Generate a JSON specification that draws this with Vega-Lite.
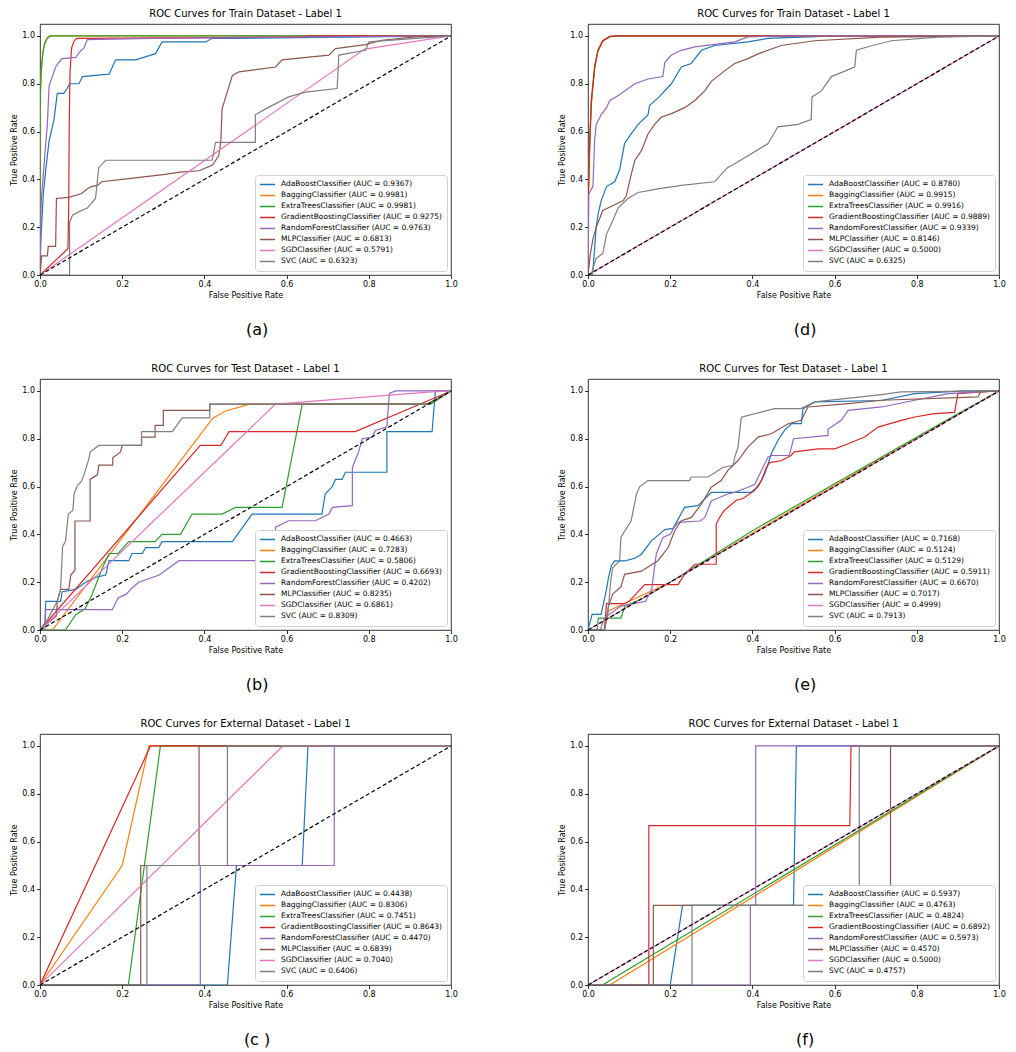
{
"$schema": "https://vega.github.io/schema/vega-lite/v6.json",
"background": "white",
"padding": {"left": 10, "top": 8, "right": 5, "bottom": 5},
"config": {
  "font": "DejaVu Sans",
  "view": {"stroke": "black", "strokeWidth": 0.8},
  "axis": {"domain": false, "grid": false, "tickColor": "black", "tickSize": 3.5, "tickWidth": 0.8, "labelFontSize": 8, "labelColor": "#000", "titleFontSize": 8, "titleFontWeight": "normal", "titleColor": "#000", "labelPadding": 2, "titlePadding": 3, "labelFlush": false},
  "legend": {"orient": "bottom-right", "offset": 4, "symbolType": "stroke", "symbolSize": 225, "symbolStrokeWidth": 1.5, "labelFontSize": 7.5, "labelColor": "#000", "padding": 4, "strokeColor": "#d0d0d0", "fillColor": "white", "cornerRadius": 3, "rowPadding": 0, "clipHeight": 10.8, "labelOffset": 5, "labelLimit": 300},
  "title": {"fontSize": 10, "fontWeight": "normal", "color": "#000", "offset": 5},
  "concat": {"spacing": 100}
},
"resolve": {"scale": {"color": "independent"}},
"spacing": 25,
"vconcat": [
{"hconcat": [
 {"title": {"text": "(a)", "orient": "bottom", "anchor": "middle", "fontSize": 16, "offset": 22, "dx": 23},
  "resolve": {"scale": {"color": "independent"}},
  "vconcat": [{
  "title": "ROC Curves for Train Dataset - Label 1", "width": 411, "height": 251,
  "layer": [
   {"data": {"values": [
    {"m":"Ada","x":0,"y":0},{"m":"Ada","x":0.002,"y":0.14},{"m":"Ada","x":0.008,"y":0.34},{"m":"Ada","x":0.014,"y":0.44},{"m":"Ada","x":0.022,"y":0.56},{"m":"Ada","x":0.034,"y":0.65},{"m":"Ada","x":0.042,"y":0.76},{"m":"Ada","x":0.058,"y":0.76},{"m":"Ada","x":0.066,"y":0.78},{"m":"Ada","x":0.072,"y":0.8},{"m":"Ada","x":0.095,"y":0.8},{"m":"Ada","x":0.103,"y":0.83},{"m":"Ada","x":0.168,"y":0.84},{"m":"Ada","x":0.176,"y":0.87},{"m":"Ada","x":0.184,"y":0.9},{"m":"Ada","x":0.233,"y":0.9},{"m":"Ada","x":0.281,"y":0.926},{"m":"Ada","x":0.297,"y":0.975},{"m":"Ada","x":0.403,"y":0.975},{"m":"Ada","x":0.419,"y":0.99},{"m":"Ada","x":0.468,"y":0.99},{"m":"Ada","x":1,"y":1},
    {"m":"Bag","x":0,"y":0},{"m":"Bag","x":0,"y":0.72},{"m":"Bag","x":0.003,"y":0.86},{"m":"Bag","x":0.007,"y":0.935},{"m":"Bag","x":0.012,"y":0.975},{"m":"Bag","x":0.018,"y":0.995},{"m":"Bag","x":0.024,"y":1},{"m":"Bag","x":1,"y":1},
    {"m":"ET","x":0,"y":0},{"m":"ET","x":0,"y":0.7},{"m":"ET","x":0.003,"y":0.85},{"m":"ET","x":0.007,"y":0.93},{"m":"ET","x":0.012,"y":0.97},{"m":"ET","x":0.018,"y":0.99},{"m":"ET","x":0.025,"y":1},{"m":"ET","x":1,"y":1},
    {"m":"GB","x":0,"y":0},{"m":"GB","x":0.068,"y":0.11},{"m":"GB","x":0.07,"y":0.3},{"m":"GB","x":0.071,"y":0.6},{"m":"GB","x":0.073,"y":0.85},{"m":"GB","x":0.077,"y":0.95},{"m":"GB","x":0.083,"y":0.98},{"m":"GB","x":0.09,"y":0.99},{"m":"GB","x":0.645,"y":0.995},{"m":"GB","x":0.65,"y":1},{"m":"GB","x":1,"y":1},
    {"m":"RF","x":0,"y":0},{"m":"RF","x":0.003,"y":0.31},{"m":"RF","x":0.008,"y":0.42},{"m":"RF","x":0.014,"y":0.55},{"m":"RF","x":0.018,"y":0.63},{"m":"RF","x":0.022,"y":0.79},{"m":"RF","x":0.03,"y":0.83},{"m":"RF","x":0.038,"y":0.87},{"m":"RF","x":0.046,"y":0.89},{"m":"RF","x":0.054,"y":0.905},{"m":"RF","x":0.087,"y":0.91},{"m":"RF","x":0.095,"y":0.93},{"m":"RF","x":0.107,"y":0.95},{"m":"RF","x":0.115,"y":0.985},{"m":"RF","x":0.273,"y":0.99},{"m":"RF","x":0.6,"y":0.995},{"m":"RF","x":1,"y":1},
    {"m":"MLP","x":0,"y":0},{"m":"MLP","x":0.004,"y":0.08},{"m":"MLP","x":0.018,"y":0.08},{"m":"MLP","x":0.02,"y":0.12},{"m":"MLP","x":0.038,"y":0.12},{"m":"MLP","x":0.04,"y":0.32},{"m":"MLP","x":0.07,"y":0.325},{"m":"MLP","x":0.1,"y":0.34},{"m":"MLP","x":0.115,"y":0.36},{"m":"MLP","x":0.125,"y":0.37},{"m":"MLP","x":0.14,"y":0.375},{"m":"MLP","x":0.15,"y":0.39},{"m":"MLP","x":0.2,"y":0.4},{"m":"MLP","x":0.3,"y":0.42},{"m":"MLP","x":0.34,"y":0.43},{"m":"MLP","x":0.387,"y":0.436},{"m":"MLP","x":0.42,"y":0.46},{"m":"MLP","x":0.435,"y":0.5},{"m":"MLP","x":0.44,"y":0.56},{"m":"MLP","x":0.443,"y":0.695},{"m":"MLP","x":0.46,"y":0.79},{"m":"MLP","x":0.468,"y":0.835},{"m":"MLP","x":0.484,"y":0.85},{"m":"MLP","x":0.573,"y":0.87},{"m":"MLP","x":0.589,"y":0.9},{"m":"MLP","x":0.703,"y":0.92},{"m":"MLP","x":0.719,"y":0.947},{"m":"MLP","x":0.792,"y":0.964},{"m":"MLP","x":0.832,"y":0.982},{"m":"MLP","x":0.913,"y":0.996},{"m":"MLP","x":1,"y":1},
    {"m":"SGD","x":0,"y":0},{"m":"SGD","x":0.79,"y":0.945},{"m":"SGD","x":1,"y":1},
    {"m":"SVC","x":0,"y":0},{"m":"SVC","x":0.072,"y":0},{"m":"SVC","x":0.072,"y":0.22},{"m":"SVC","x":0.079,"y":0.25},{"m":"SVC","x":0.095,"y":0.265},{"m":"SVC","x":0.115,"y":0.28},{"m":"SVC","x":0.135,"y":0.32},{"m":"SVC","x":0.143,"y":0.45},{"m":"SVC","x":0.16,"y":0.48},{"m":"SVC","x":0.419,"y":0.48},{"m":"SVC","x":0.427,"y":0.555},{"m":"SVC","x":0.524,"y":0.555},{"m":"SVC","x":0.524,"y":0.67},{"m":"SVC","x":0.549,"y":0.695},{"m":"SVC","x":0.605,"y":0.745},{"m":"SVC","x":0.646,"y":0.765},{"m":"SVC","x":0.723,"y":0.78},{"m":"SVC","x":0.727,"y":0.92},{"m":"SVC","x":0.792,"y":0.94},{"m":"SVC","x":0.8,"y":0.975},{"m":"SVC","x":0.873,"y":0.985},{"m":"SVC","x":1,"y":1}
   ]},
   "transform": [{"lookup": "m", "from": {"data": {"values": [
     {"m":"Ada","label":"AdaBoostClassifier (AUC = 0.9367)"},{"m":"Bag","label":"BaggingClassifier (AUC = 0.9981)"},{"m":"ET","label":"ExtraTreesClassifier (AUC = 0.9981)"},{"m":"GB","label":"GradientBoostingClassifier (AUC = 0.9275)"},{"m":"RF","label":"RandomForestClassifier (AUC = 0.9763)"},{"m":"MLP","label":"MLPClassifier (AUC = 0.6813)"},{"m":"SGD","label":"SGDClassifier (AUC = 0.5791)"},{"m":"SVC","label":"SVC (AUC = 0.6323)"}]}, "key": "m", "fields": ["label"]}}],
   "mark": {"type": "line", "strokeWidth": 1.2, "clip": true},
   "encoding": {
    "x": {"field": "x", "type": "quantitative", "scale": {"domain": [0, 1], "nice": false}, "axis": {"title": "False Positive Rate", "values": [0, 0.2, 0.4, 0.6, 0.8, 1], "format": ".1f"}},
    "y": {"field": "y", "type": "quantitative", "scale": {"domain": [0, 1.05], "nice": false}, "axis": {"title": "True Positive Rate", "values": [0, 0.2, 0.4, 0.6, 0.8, 1], "format": ".1f"}},
    "color": {"field": "label", "type": "nominal", "scale": {"domain": ["AdaBoostClassifier (AUC = 0.9367)","BaggingClassifier (AUC = 0.9981)","ExtraTreesClassifier (AUC = 0.9981)","GradientBoostingClassifier (AUC = 0.9275)","RandomForestClassifier (AUC = 0.9763)","MLPClassifier (AUC = 0.6813)","SGDClassifier (AUC = 0.5791)","SVC (AUC = 0.6323)"], "range": ["#1f77b4","#ff7f0e","#2ca02c","#d62728","#9467bd","#8c564b","#e377c2","#7f7f7f"]}, "legend": {"title": null}},
    "order": [{"field": "x"}, {"field": "y"}]
   }},
   {"data": {"values": [{"x": 0, "y": 0, "x2": 1, "y2": 1}]}, "mark": {"type": "rule", "color": "black", "strokeDash": [4, 2.5], "strokeWidth": 1.2}, "encoding": {"x": {"field": "x", "type": "quantitative"}, "y": {"field": "y", "type": "quantitative"}, "x2": {"field": "x2"}, "y2": {"field": "y2"}}}
  ]}]},
 {"title": {"text": "(d)", "orient": "bottom", "anchor": "middle", "fontSize": 16, "offset": 22, "dx": 23},
  "resolve": {"scale": {"color": "independent"}},
  "vconcat": [{
  "title": "ROC Curves for Train Dataset - Label 1", "width": 411, "height": 251,
  "layer": [
   {"data": {"values": [
    {"m":"Ada","x":0,"y":0},{"m":"Ada","x":0.01,"y":0},{"m":"Ada","x":0.012,"y":0.02},{"m":"Ada","x":0.02,"y":0.2},{"m":"Ada","x":0.024,"y":0.25},{"m":"Ada","x":0.032,"y":0.31},{"m":"Ada","x":0.045,"y":0.37},{"m":"Ada","x":0.065,"y":0.39},{"m":"Ada","x":0.077,"y":0.44},{"m":"Ada","x":0.089,"y":0.55},{"m":"Ada","x":0.105,"y":0.59},{"m":"Ada","x":0.122,"y":0.63},{"m":"Ada","x":0.146,"y":0.67},{"m":"Ada","x":0.15,"y":0.71},{"m":"Ada","x":0.17,"y":0.74},{"m":"Ada","x":0.203,"y":0.8},{"m":"Ada","x":0.227,"y":0.87},{"m":"Ada","x":0.251,"y":0.885},{"m":"Ada","x":0.276,"y":0.94},{"m":"Ada","x":0.308,"y":0.96},{"m":"Ada","x":0.389,"y":0.975},{"m":"Ada","x":0.438,"y":0.99},{"m":"Ada","x":0.6,"y":1},{"m":"Ada","x":1,"y":1},
    {"m":"Bag","x":0,"y":0},{"m":"Bag","x":0.001,"y":0.33},{"m":"Bag","x":0.004,"y":0.53},{"m":"Bag","x":0.008,"y":0.71},{"m":"Bag","x":0.016,"y":0.86},{"m":"Bag","x":0.024,"y":0.935},{"m":"Bag","x":0.036,"y":0.978},{"m":"Bag","x":0.053,"y":0.997},{"m":"Bag","x":0.072,"y":1},{"m":"Bag","x":1,"y":1},
    {"m":"ET","x":0,"y":0},{"m":"ET","x":0.001,"y":0.34},{"m":"ET","x":0.004,"y":0.54},{"m":"ET","x":0.008,"y":0.72},{"m":"ET","x":0.016,"y":0.865},{"m":"ET","x":0.024,"y":0.937},{"m":"ET","x":0.036,"y":0.979},{"m":"ET","x":0.053,"y":0.997},{"m":"ET","x":0.07,"y":1},{"m":"ET","x":1,"y":1},
    {"m":"GB","x":0,"y":0},{"m":"GB","x":0.001,"y":0.35},{"m":"GB","x":0.004,"y":0.55},{"m":"GB","x":0.008,"y":0.73},{"m":"GB","x":0.016,"y":0.87},{"m":"GB","x":0.024,"y":0.94},{"m":"GB","x":0.036,"y":0.98},{"m":"GB","x":0.053,"y":0.998},{"m":"GB","x":0.07,"y":1},{"m":"GB","x":1,"y":1},
    {"m":"RF","x":0,"y":0},{"m":"RF","x":0.002,"y":0.34},{"m":"RF","x":0.012,"y":0.37},{"m":"RF","x":0.016,"y":0.56},{"m":"RF","x":0.02,"y":0.63},{"m":"RF","x":0.032,"y":0.67},{"m":"RF","x":0.045,"y":0.7},{"m":"RF","x":0.053,"y":0.73},{"m":"RF","x":0.073,"y":0.75},{"m":"RF","x":0.089,"y":0.77},{"m":"RF","x":0.114,"y":0.8},{"m":"RF","x":0.146,"y":0.82},{"m":"RF","x":0.182,"y":0.83},{"m":"RF","x":0.187,"y":0.89},{"m":"RF","x":0.203,"y":0.92},{"m":"RF","x":0.227,"y":0.94},{"m":"RF","x":0.26,"y":0.954},{"m":"RF","x":0.357,"y":0.975},{"m":"RF","x":0.389,"y":0.996},{"m":"RF","x":0.47,"y":1},{"m":"RF","x":1,"y":1},
    {"m":"MLP","x":0,"y":0},{"m":"MLP","x":0.005,"y":0.08},{"m":"MLP","x":0.012,"y":0.15},{"m":"MLP","x":0.02,"y":0.2},{"m":"MLP","x":0.036,"y":0.27},{"m":"MLP","x":0.06,"y":0.29},{"m":"MLP","x":0.085,"y":0.31},{"m":"MLP","x":0.093,"y":0.33},{"m":"MLP","x":0.105,"y":0.42},{"m":"MLP","x":0.114,"y":0.48},{"m":"MLP","x":0.13,"y":0.52},{"m":"MLP","x":0.146,"y":0.59},{"m":"MLP","x":0.162,"y":0.63},{"m":"MLP","x":0.178,"y":0.66},{"m":"MLP","x":0.203,"y":0.675},{"m":"MLP","x":0.235,"y":0.7},{"m":"MLP","x":0.26,"y":0.73},{"m":"MLP","x":0.284,"y":0.77},{"m":"MLP","x":0.3,"y":0.81},{"m":"MLP","x":0.333,"y":0.855},{"m":"MLP","x":0.357,"y":0.885},{"m":"MLP","x":0.389,"y":0.905},{"m":"MLP","x":0.414,"y":0.925},{"m":"MLP","x":0.438,"y":0.94},{"m":"MLP","x":0.47,"y":0.96},{"m":"MLP","x":0.551,"y":0.98},{"m":"MLP","x":0.714,"y":0.995},{"m":"MLP","x":1,"y":1},
    {"m":"SGD","x":0,"y":0},{"m":"SGD","x":1,"y":1},
    {"m":"SVC","x":0,"y":0},{"m":"SVC","x":0.008,"y":0},{"m":"SVC","x":0.016,"y":0.05},{"m":"SVC","x":0.02,"y":0.07},{"m":"SVC","x":0.036,"y":0.09},{"m":"SVC","x":0.045,"y":0.17},{"m":"SVC","x":0.061,"y":0.23},{"m":"SVC","x":0.073,"y":0.28},{"m":"SVC","x":0.097,"y":0.32},{"m":"SVC","x":0.122,"y":0.345},{"m":"SVC","x":0.17,"y":0.36},{"m":"SVC","x":0.227,"y":0.375},{"m":"SVC","x":0.308,"y":0.39},{"m":"SVC","x":0.34,"y":0.45},{"m":"SVC","x":0.357,"y":0.465},{"m":"SVC","x":0.438,"y":0.55},{"m":"SVC","x":0.462,"y":0.62},{"m":"SVC","x":0.511,"y":0.63},{"m":"SVC","x":0.543,"y":0.65},{"m":"SVC","x":0.545,"y":0.745},{"m":"SVC","x":0.568,"y":0.77},{"m":"SVC","x":0.592,"y":0.83},{"m":"SVC","x":0.649,"y":0.87},{"m":"SVC","x":0.653,"y":0.94},{"m":"SVC","x":0.681,"y":0.955},{"m":"SVC","x":0.738,"y":0.98},{"m":"SVC","x":0.852,"y":0.995},{"m":"SVC","x":1,"y":1}
   ]},
   "transform": [{"lookup": "m", "from": {"data": {"values": [
     {"m":"Ada","label":"AdaBoostClassifier (AUC = 0.8780)"},{"m":"Bag","label":"BaggingClassifier (AUC = 0.9915)"},{"m":"ET","label":"ExtraTreesClassifier (AUC = 0.9916)"},{"m":"GB","label":"GradientBoostingClassifier (AUC = 0.9889)"},{"m":"RF","label":"RandomForestClassifier (AUC = 0.9339)"},{"m":"MLP","label":"MLPClassifier (AUC = 0.8146)"},{"m":"SGD","label":"SGDClassifier (AUC = 0.5000)"},{"m":"SVC","label":"SVC (AUC = 0.6325)"}]}, "key": "m", "fields": ["label"]}}],
   "mark": {"type": "line", "strokeWidth": 1.2, "clip": true},
   "encoding": {
    "x": {"field": "x", "type": "quantitative", "scale": {"domain": [0, 1], "nice": false}, "axis": {"title": "False Positive Rate", "values": [0, 0.2, 0.4, 0.6, 0.8, 1], "format": ".1f"}},
    "y": {"field": "y", "type": "quantitative", "scale": {"domain": [0, 1.05], "nice": false}, "axis": {"title": "True Positive Rate", "values": [0, 0.2, 0.4, 0.6, 0.8, 1], "format": ".1f"}},
    "color": {"field": "label", "type": "nominal", "scale": {"domain": ["AdaBoostClassifier (AUC = 0.8780)","BaggingClassifier (AUC = 0.9915)","ExtraTreesClassifier (AUC = 0.9916)","GradientBoostingClassifier (AUC = 0.9889)","RandomForestClassifier (AUC = 0.9339)","MLPClassifier (AUC = 0.8146)","SGDClassifier (AUC = 0.5000)","SVC (AUC = 0.6325)"], "range": ["#1f77b4","#ff7f0e","#2ca02c","#d62728","#9467bd","#8c564b","#e377c2","#7f7f7f"]}, "legend": {"title": null}},
    "order": [{"field": "x"}, {"field": "y"}]
   }},
   {"data": {"values": [{"x": 0, "y": 0, "x2": 1, "y2": 1}]}, "mark": {"type": "rule", "color": "black", "strokeDash": [4, 2.5], "strokeWidth": 1.2}, "encoding": {"x": {"field": "x", "type": "quantitative"}, "y": {"field": "y", "type": "quantitative"}, "x2": {"field": "x2"}, "y2": {"field": "y2"}}}
  ]}]}
 ], "resolve": {"scale": {"color": "independent"}}},
{"hconcat": [
 {"title": {"text": "(b)", "orient": "bottom", "anchor": "middle", "fontSize": 16, "offset": 22, "dx": 23},
  "resolve": {"scale": {"color": "independent"}},
  "vconcat": [{
  "title": "ROC Curves for Test Dataset - Label 1", "width": 411, "height": 251,
  "layer": [
   {"data": {"values": [
    {"m":"Ada","x":0,"y":0},{"m":"Ada","x":0.012,"y":0.03},{"m":"Ada","x":0.014,"y":0.12},{"m":"Ada","x":0.05,"y":0.12},{"m":"Ada","x":0.054,"y":0.16},{"m":"Ada","x":0.087,"y":0.17},{"m":"Ada","x":0.111,"y":0.2},{"m":"Ada","x":0.135,"y":0.22},{"m":"Ada","x":0.16,"y":0.23},{"m":"Ada","x":0.168,"y":0.29},{"m":"Ada","x":0.216,"y":0.29},{"m":"Ada","x":0.224,"y":0.32},{"m":"Ada","x":0.249,"y":0.32},{"m":"Ada","x":0.257,"y":0.345},{"m":"Ada","x":0.289,"y":0.345},{"m":"Ada","x":0.297,"y":0.37},{"m":"Ada","x":0.468,"y":0.37},{"m":"Ada","x":0.516,"y":0.485},{"m":"Ada","x":0.686,"y":0.485},{"m":"Ada","x":0.694,"y":0.57},{"m":"Ada","x":0.711,"y":0.6},{"m":"Ada","x":0.719,"y":0.63},{"m":"Ada","x":0.735,"y":0.63},{"m":"Ada","x":0.743,"y":0.66},{"m":"Ada","x":0.844,"y":0.66},{"m":"Ada","x":0.844,"y":0.83},{"m":"Ada","x":0.954,"y":0.83},{"m":"Ada","x":0.962,"y":1},{"m":"Ada","x":1,"y":1},
    {"m":"Bag","x":0,"y":0},{"m":"Bag","x":0.03,"y":0},{"m":"Bag","x":0.42,"y":0.885},{"m":"Bag","x":0.45,"y":0.915},{"m":"Bag","x":0.51,"y":0.945},{"m":"Bag","x":0.95,"y":0.945},{"m":"Bag","x":1,"y":1},
    {"m":"ET","x":0,"y":0},{"m":"ET","x":0.062,"y":0},{"m":"ET","x":0.087,"y":0.064},{"m":"ET","x":0.11,"y":0.09},{"m":"ET","x":0.127,"y":0.15},{"m":"ET","x":0.152,"y":0.26},{"m":"ET","x":0.168,"y":0.32},{"m":"ET","x":0.19,"y":0.32},{"m":"ET","x":0.216,"y":0.37},{"m":"ET","x":0.28,"y":0.37},{"m":"ET","x":0.297,"y":0.4},{"m":"ET","x":0.342,"y":0.4},{"m":"ET","x":0.37,"y":0.485},{"m":"ET","x":0.443,"y":0.485},{"m":"ET","x":0.476,"y":0.513},{"m":"ET","x":0.589,"y":0.513},{"m":"ET","x":0.638,"y":0.945},{"m":"ET","x":0.95,"y":0.945},{"m":"ET","x":1,"y":1},
    {"m":"GB","x":0,"y":0},{"m":"GB","x":0.39,"y":0.772},{"m":"GB","x":0.44,"y":0.772},{"m":"GB","x":0.46,"y":0.83},{"m":"GB","x":0.767,"y":0.83},{"m":"GB","x":1,"y":1},
    {"m":"RF","x":0,"y":0},{"m":"RF","x":0.012,"y":0},{"m":"RF","x":0.014,"y":0.085},{"m":"RF","x":0.176,"y":0.085},{"m":"RF","x":0.19,"y":0.134},{"m":"RF","x":0.21,"y":0.15},{"m":"RF","x":0.224,"y":0.176},{"m":"RF","x":0.24,"y":0.2},{"m":"RF","x":0.29,"y":0.23},{"m":"RF","x":0.338,"y":0.29},{"m":"RF","x":0.573,"y":0.29},{"m":"RF","x":0.573,"y":0.43},{"m":"RF","x":0.605,"y":0.457},{"m":"RF","x":0.67,"y":0.457},{"m":"RF","x":0.703,"y":0.485},{"m":"RF","x":0.711,"y":0.513},{"m":"RF","x":0.76,"y":0.52},{"m":"RF","x":0.76,"y":0.68},{"m":"RF","x":0.767,"y":0.71},{"m":"RF","x":0.775,"y":0.744},{"m":"RF","x":0.784,"y":0.8},{"m":"RF","x":0.808,"y":0.807},{"m":"RF","x":0.816,"y":0.835},{"m":"RF","x":0.844,"y":0.85},{"m":"RF","x":0.85,"y":0.99},{"m":"RF","x":0.865,"y":1},{"m":"RF","x":1,"y":1},
    {"m":"MLP","x":0,"y":0},{"m":"MLP","x":0.04,"y":0.06},{"m":"MLP","x":0.042,"y":0.12},{"m":"MLP","x":0.05,"y":0.17},{"m":"MLP","x":0.07,"y":0.17},{"m":"MLP","x":0.075,"y":0.23},{"m":"MLP","x":0.085,"y":0.25},{"m":"MLP","x":0.085,"y":0.456},{"m":"MLP","x":0.122,"y":0.456},{"m":"MLP","x":0.122,"y":0.63},{"m":"MLP","x":0.14,"y":0.65},{"m":"MLP","x":0.143,"y":0.69},{"m":"MLP","x":0.177,"y":0.69},{"m":"MLP","x":0.177,"y":0.72},{"m":"MLP","x":0.196,"y":0.745},{"m":"MLP","x":0.2,"y":0.772},{"m":"MLP","x":0.247,"y":0.772},{"m":"MLP","x":0.247,"y":0.807},{"m":"MLP","x":0.28,"y":0.807},{"m":"MLP","x":0.28,"y":0.856},{"m":"MLP","x":0.3,"y":0.856},{"m":"MLP","x":0.3,"y":0.919},{"m":"MLP","x":0.413,"y":0.919},{"m":"MLP","x":0.413,"y":0.945},{"m":"MLP","x":0.942,"y":0.945},{"m":"MLP","x":1,"y":1},
    {"m":"SGD","x":0,"y":0},{"m":"SGD","x":0.573,"y":0.945},{"m":"SGD","x":0.945,"y":0.995},{"m":"SGD","x":1,"y":1},
    {"m":"SVC","x":0,"y":0},{"m":"SVC","x":0.014,"y":0.03},{"m":"SVC","x":0.042,"y":0.12},{"m":"SVC","x":0.05,"y":0.17},{"m":"SVC","x":0.055,"y":0.35},{"m":"SVC","x":0.062,"y":0.37},{"m":"SVC","x":0.069,"y":0.485},{"m":"SVC","x":0.08,"y":0.5},{"m":"SVC","x":0.083,"y":0.57},{"m":"SVC","x":0.091,"y":0.604},{"m":"SVC","x":0.1,"y":0.62},{"m":"SVC","x":0.107,"y":0.65},{"m":"SVC","x":0.119,"y":0.716},{"m":"SVC","x":0.122,"y":0.744},{"m":"SVC","x":0.143,"y":0.772},{"m":"SVC","x":0.247,"y":0.772},{"m":"SVC","x":0.247,"y":0.83},{"m":"SVC","x":0.322,"y":0.83},{"m":"SVC","x":0.346,"y":0.887},{"m":"SVC","x":0.413,"y":0.887},{"m":"SVC","x":0.413,"y":0.945},{"m":"SVC","x":0.942,"y":0.945},{"m":"SVC","x":1,"y":1}
   ]},
   "transform": [{"lookup": "m", "from": {"data": {"values": [
     {"m":"Ada","label":"AdaBoostClassifier (AUC = 0.4663)"},{"m":"Bag","label":"BaggingClassifier (AUC = 0.7283)"},{"m":"ET","label":"ExtraTreesClassifier (AUC = 0.5806)"},{"m":"GB","label":"GradientBoostingClassifier (AUC = 0.6693)"},{"m":"RF","label":"RandomForestClassifier (AUC = 0.4202)"},{"m":"MLP","label":"MLPClassifier (AUC = 0.8235)"},{"m":"SGD","label":"SGDClassifier (AUC = 0.6861)"},{"m":"SVC","label":"SVC (AUC = 0.8309)"}]}, "key": "m", "fields": ["label"]}}],
   "mark": {"type": "line", "strokeWidth": 1.2, "clip": true},
   "encoding": {
    "x": {"field": "x", "type": "quantitative", "scale": {"domain": [0, 1], "nice": false}, "axis": {"title": "False Positive Rate", "values": [0, 0.2, 0.4, 0.6, 0.8, 1], "format": ".1f"}},
    "y": {"field": "y", "type": "quantitative", "scale": {"domain": [0, 1.05], "nice": false}, "axis": {"title": "True Positive Rate", "values": [0, 0.2, 0.4, 0.6, 0.8, 1], "format": ".1f"}},
    "color": {"field": "label", "type": "nominal", "scale": {"domain": ["AdaBoostClassifier (AUC = 0.4663)","BaggingClassifier (AUC = 0.7283)","ExtraTreesClassifier (AUC = 0.5806)","GradientBoostingClassifier (AUC = 0.6693)","RandomForestClassifier (AUC = 0.4202)","MLPClassifier (AUC = 0.8235)","SGDClassifier (AUC = 0.6861)","SVC (AUC = 0.8309)"], "range": ["#1f77b4","#ff7f0e","#2ca02c","#d62728","#9467bd","#8c564b","#e377c2","#7f7f7f"]}, "legend": {"title": null}},
    "order": [{"field": "x"}, {"field": "y"}]
   }},
   {"data": {"values": [{"x": 0, "y": 0, "x2": 1, "y2": 1}]}, "mark": {"type": "rule", "color": "black", "strokeDash": [4, 2.5], "strokeWidth": 1.2}, "encoding": {"x": {"field": "x", "type": "quantitative"}, "y": {"field": "y", "type": "quantitative"}, "x2": {"field": "x2"}, "y2": {"field": "y2"}}}
  ]}]},
 {"title": {"text": "(e)", "orient": "bottom", "anchor": "middle", "fontSize": 16, "offset": 22, "dx": 23},
  "resolve": {"scale": {"color": "independent"}},
  "vconcat": [{
  "title": "ROC Curves for Test Dataset - Label 1", "width": 411, "height": 251,
  "layer": [
   {"data": {"values": [
    {"m":"Ada","x":0,"y":0},{"m":"Ada","x":0.01,"y":0.065},{"m":"Ada","x":0.032,"y":0.065},{"m":"Ada","x":0.045,"y":0.17},{"m":"Ada","x":0.05,"y":0.22},{"m":"Ada","x":0.057,"y":0.27},{"m":"Ada","x":0.065,"y":0.289},{"m":"Ada","x":0.09,"y":0.289},{"m":"Ada","x":0.114,"y":0.3},{"m":"Ada","x":0.13,"y":0.317},{"m":"Ada","x":0.154,"y":0.373},{"m":"Ada","x":0.187,"y":0.42},{"m":"Ada","x":0.207,"y":0.425},{"m":"Ada","x":0.235,"y":0.513},{"m":"Ada","x":0.268,"y":0.52},{"m":"Ada","x":0.3,"y":0.576},{"m":"Ada","x":0.397,"y":0.576},{"m":"Ada","x":0.414,"y":0.6},{"m":"Ada","x":0.43,"y":0.653},{"m":"Ada","x":0.446,"y":0.737},{"m":"Ada","x":0.462,"y":0.793},{"m":"Ada","x":0.478,"y":0.835},{"m":"Ada","x":0.495,"y":0.863},{"m":"Ada","x":0.519,"y":0.863},{"m":"Ada","x":0.523,"y":0.926},{"m":"Ada","x":0.552,"y":0.954},{"m":"Ada","x":0.714,"y":0.96},{"m":"Ada","x":0.795,"y":0.989},{"m":"Ada","x":0.916,"y":1},{"m":"Ada","x":1,"y":1},
    {"m":"Bag","x":0,"y":0},{"m":"Bag","x":0.04,"y":0},{"m":"Bag","x":0.05,"y":0.08},{"m":"Bag","x":0.1,"y":0.12},{"m":"Bag","x":0.2,"y":0.2},{"m":"Bag","x":0.4,"y":0.405},{"m":"Bag","x":0.7,"y":0.705},{"m":"Bag","x":1,"y":1},
    {"m":"ET","x":0,"y":0},{"m":"ET","x":0.022,"y":0},{"m":"ET","x":0.025,"y":0.05},{"m":"ET","x":0.08,"y":0.05},{"m":"ET","x":0.09,"y":0.1},{"m":"ET","x":0.13,"y":0.13},{"m":"ET","x":0.2,"y":0.2},{"m":"ET","x":0.4,"y":0.415},{"m":"ET","x":0.6,"y":0.612},{"m":"ET","x":0.9,"y":0.905},{"m":"ET","x":1,"y":1},
    {"m":"GB","x":0,"y":0},{"m":"GB","x":0.04,"y":0},{"m":"GB","x":0.045,"y":0.11},{"m":"GB","x":0.09,"y":0.11},{"m":"GB","x":0.1,"y":0.12},{"m":"GB","x":0.138,"y":0.19},{"m":"GB","x":0.219,"y":0.19},{"m":"GB","x":0.235,"y":0.233},{"m":"GB","x":0.26,"y":0.275},{"m":"GB","x":0.312,"y":0.275},{"m":"GB","x":0.312,"y":0.443},{"m":"GB","x":0.32,"y":0.47},{"m":"GB","x":0.33,"y":0.497},{"m":"GB","x":0.345,"y":0.52},{"m":"GB","x":0.361,"y":0.543},{"m":"GB","x":0.377,"y":0.55},{"m":"GB","x":0.405,"y":0.583},{"m":"GB","x":0.422,"y":0.625},{"m":"GB","x":0.434,"y":0.68},{"m":"GB","x":0.442,"y":0.7},{"m":"GB","x":0.47,"y":0.708},{"m":"GB","x":0.494,"y":0.73},{"m":"GB","x":0.502,"y":0.745},{"m":"GB","x":0.56,"y":0.758},{"m":"GB","x":0.6,"y":0.758},{"m":"GB","x":0.633,"y":0.779},{"m":"GB","x":0.673,"y":0.807},{"m":"GB","x":0.706,"y":0.849},{"m":"GB","x":0.762,"y":0.877},{"m":"GB","x":0.795,"y":0.891},{"m":"GB","x":0.843,"y":0.905},{"m":"GB","x":0.892,"y":0.91},{"m":"GB","x":0.9,"y":0.989},{"m":"GB","x":0.957,"y":0.996},{"m":"GB","x":1,"y":1},
    {"m":"RF","x":0,"y":0},{"m":"RF","x":0.03,"y":0},{"m":"RF","x":0.04,"y":0.05},{"m":"RF","x":0.08,"y":0.1},{"m":"RF","x":0.14,"y":0.12},{"m":"RF","x":0.155,"y":0.17},{"m":"RF","x":0.166,"y":0.317},{"m":"RF","x":0.182,"y":0.387},{"m":"RF","x":0.2,"y":0.4},{"m":"RF","x":0.21,"y":0.43},{"m":"RF","x":0.22,"y":0.45},{"m":"RF","x":0.272,"y":0.456},{"m":"RF","x":0.284,"y":0.47},{"m":"RF","x":0.3,"y":0.54},{"m":"RF","x":0.34,"y":0.569},{"m":"RF","x":0.357,"y":0.576},{"m":"RF","x":0.389,"y":0.597},{"m":"RF","x":0.406,"y":0.61},{"m":"RF","x":0.422,"y":0.667},{"m":"RF","x":0.438,"y":0.723},{"m":"RF","x":0.446,"y":0.73},{"m":"RF","x":0.49,"y":0.73},{"m":"RF","x":0.5,"y":0.8},{"m":"RF","x":0.584,"y":0.814},{"m":"RF","x":0.584,"y":0.84},{"m":"RF","x":0.616,"y":0.877},{"m":"RF","x":0.633,"y":0.919},{"m":"RF","x":0.714,"y":0.933},{"m":"RF","x":0.795,"y":0.961},{"m":"RF","x":0.876,"y":0.989},{"m":"RF","x":0.949,"y":0.996},{"m":"RF","x":1,"y":1},
    {"m":"MLP","x":0,"y":0},{"m":"MLP","x":0.04,"y":0},{"m":"MLP","x":0.05,"y":0.1},{"m":"MLP","x":0.06,"y":0.15},{"m":"MLP","x":0.08,"y":0.18},{"m":"MLP","x":0.089,"y":0.233},{"m":"MLP","x":0.13,"y":0.246},{"m":"MLP","x":0.17,"y":0.29},{"m":"MLP","x":0.195,"y":0.345},{"m":"MLP","x":0.211,"y":0.415},{"m":"MLP","x":0.227,"y":0.457},{"m":"MLP","x":0.251,"y":0.47},{"m":"MLP","x":0.276,"y":0.527},{"m":"MLP","x":0.3,"y":0.597},{"m":"MLP","x":0.324,"y":0.625},{"m":"MLP","x":0.34,"y":0.667},{"m":"MLP","x":0.365,"y":0.709},{"m":"MLP","x":0.389,"y":0.765},{"m":"MLP","x":0.414,"y":0.807},{"m":"MLP","x":0.446,"y":0.821},{"m":"MLP","x":0.487,"y":0.863},{"m":"MLP","x":0.519,"y":0.877},{"m":"MLP","x":0.535,"y":0.933},{"m":"MLP","x":0.633,"y":0.947},{"m":"MLP","x":0.714,"y":0.961},{"m":"MLP","x":0.949,"y":0.975},{"m":"MLP","x":0.955,"y":0.996},{"m":"MLP","x":1,"y":1},
    {"m":"SGD","x":0,"y":0},{"m":"SGD","x":1,"y":1},
    {"m":"SVC","x":0,"y":0},{"m":"SVC","x":0.04,"y":0},{"m":"SVC","x":0.05,"y":0.1},{"m":"SVC","x":0.055,"y":0.2},{"m":"SVC","x":0.06,"y":0.26},{"m":"SVC","x":0.077,"y":0.29},{"m":"SVC","x":0.08,"y":0.387},{"m":"SVC","x":0.088,"y":0.41},{"m":"SVC","x":0.105,"y":0.457},{"m":"SVC","x":0.118,"y":0.569},{"m":"SVC","x":0.126,"y":0.6},{"m":"SVC","x":0.146,"y":0.625},{"m":"SVC","x":0.247,"y":0.625},{"m":"SVC","x":0.251,"y":0.64},{"m":"SVC","x":0.292,"y":0.64},{"m":"SVC","x":0.328,"y":0.68},{"m":"SVC","x":0.353,"y":0.689},{"m":"SVC","x":0.357,"y":0.723},{"m":"SVC","x":0.365,"y":0.765},{"m":"SVC","x":0.373,"y":0.89},{"m":"SVC","x":0.454,"y":0.926},{"m":"SVC","x":0.518,"y":0.926},{"m":"SVC","x":0.552,"y":0.954},{"m":"SVC","x":0.714,"y":0.985},{"m":"SVC","x":0.762,"y":0.996},{"m":"SVC","x":1,"y":1}
   ]},
   "transform": [{"lookup": "m", "from": {"data": {"values": [
     {"m":"Ada","label":"AdaBoostClassifier (AUC = 0.7168)"},{"m":"Bag","label":"BaggingClassifier (AUC = 0.5124)"},{"m":"ET","label":"ExtraTreesClassifier (AUC = 0.5129)"},{"m":"GB","label":"GradientBoostingClassifier (AUC = 0.5911)"},{"m":"RF","label":"RandomForestClassifier (AUC = 0.6670)"},{"m":"MLP","label":"MLPClassifier (AUC = 0.7017)"},{"m":"SGD","label":"SGDClassifier (AUC = 0.4999)"},{"m":"SVC","label":"SVC (AUC = 0.7913)"}]}, "key": "m", "fields": ["label"]}}],
   "mark": {"type": "line", "strokeWidth": 1.2, "clip": true},
   "encoding": {
    "x": {"field": "x", "type": "quantitative", "scale": {"domain": [0, 1], "nice": false}, "axis": {"title": "False Positive Rate", "values": [0, 0.2, 0.4, 0.6, 0.8, 1], "format": ".1f"}},
    "y": {"field": "y", "type": "quantitative", "scale": {"domain": [0, 1.05], "nice": false}, "axis": {"title": "True Positive Rate", "values": [0, 0.2, 0.4, 0.6, 0.8, 1], "format": ".1f"}},
    "color": {"field": "label", "type": "nominal", "scale": {"domain": ["AdaBoostClassifier (AUC = 0.7168)","BaggingClassifier (AUC = 0.5124)","ExtraTreesClassifier (AUC = 0.5129)","GradientBoostingClassifier (AUC = 0.5911)","RandomForestClassifier (AUC = 0.6670)","MLPClassifier (AUC = 0.7017)","SGDClassifier (AUC = 0.4999)","SVC (AUC = 0.7913)"], "range": ["#1f77b4","#ff7f0e","#2ca02c","#d62728","#9467bd","#8c564b","#e377c2","#7f7f7f"]}, "legend": {"title": null}},
    "order": [{"field": "x"}, {"field": "y"}]
   }},
   {"data": {"values": [{"x": 0, "y": 0, "x2": 1, "y2": 1}]}, "mark": {"type": "rule", "color": "black", "strokeDash": [4, 2.5], "strokeWidth": 1.2}, "encoding": {"x": {"field": "x", "type": "quantitative"}, "y": {"field": "y", "type": "quantitative"}, "x2": {"field": "x2"}, "y2": {"field": "y2"}}}
  ]}]}
 ], "resolve": {"scale": {"color": "independent"}}},
{"hconcat": [
 {"title": {"text": "(c  )", "orient": "bottom", "anchor": "middle", "fontSize": 16, "offset": 22, "dx": 23},
  "resolve": {"scale": {"color": "independent"}},
  "vconcat": [{
  "title": "ROC Curves for External Dataset - Label 1", "width": 411, "height": 251,
  "layer": [
   {"data": {"values": [
    {"m":"Ada","x":0,"y":0},{"m":"Ada","x":0.456,"y":0},{"m":"Ada","x":0.478,"y":0.5},{"m":"Ada","x":0.638,"y":0.5},{"m":"Ada","x":0.652,"y":1},{"m":"Ada","x":1,"y":1},
    {"m":"Bag","x":0,"y":0},{"m":"Bag","x":0.2,"y":0.5},{"m":"Bag","x":0.265,"y":1},{"m":"Bag","x":1,"y":1},
    {"m":"ET","x":0,"y":0},{"m":"ET","x":0.215,"y":0},{"m":"ET","x":0.293,"y":1},{"m":"ET","x":1,"y":1},
    {"m":"GB","x":0,"y":0},{"m":"GB","x":0.269,"y":1},{"m":"GB","x":1,"y":1},
    {"m":"RF","x":0,"y":0},{"m":"RF","x":0.39,"y":0},{"m":"RF","x":0.39,"y":0.5},{"m":"RF","x":0.716,"y":0.5},{"m":"RF","x":0.716,"y":1},{"m":"RF","x":1,"y":1},
    {"m":"MLP","x":0,"y":0},{"m":"MLP","x":0.245,"y":0},{"m":"MLP","x":0.245,"y":0.5},{"m":"MLP","x":0.387,"y":0.5},{"m":"MLP","x":0.387,"y":1},{"m":"MLP","x":1,"y":1},
    {"m":"SGD","x":0,"y":0},{"m":"SGD","x":0.591,"y":1},{"m":"SGD","x":1,"y":1},
    {"m":"SVC","x":0,"y":0},{"m":"SVC","x":0.26,"y":0},{"m":"SVC","x":0.26,"y":0.5},{"m":"SVC","x":0.456,"y":0.5},{"m":"SVC","x":0.456,"y":1},{"m":"SVC","x":1,"y":1}
   ]},
   "transform": [{"lookup": "m", "from": {"data": {"values": [
     {"m":"Ada","label":"AdaBoostClassifier (AUC = 0.4438)"},{"m":"Bag","label":"BaggingClassifier (AUC = 0.8306)"},{"m":"ET","label":"ExtraTreesClassifier (AUC = 0.7451)"},{"m":"GB","label":"GradientBoostingClassifier (AUC = 0.8643)"},{"m":"RF","label":"RandomForestClassifier (AUC = 0.4470)"},{"m":"MLP","label":"MLPClassifier (AUC = 0.6839)"},{"m":"SGD","label":"SGDClassifier (AUC = 0.7040)"},{"m":"SVC","label":"SVC (AUC = 0.6406)"}]}, "key": "m", "fields": ["label"]}}],
   "mark": {"type": "line", "strokeWidth": 1.2, "clip": true},
   "encoding": {
    "x": {"field": "x", "type": "quantitative", "scale": {"domain": [0, 1], "nice": false}, "axis": {"title": "False Positive Rate", "values": [0, 0.2, 0.4, 0.6, 0.8, 1], "format": ".1f"}},
    "y": {"field": "y", "type": "quantitative", "scale": {"domain": [0, 1.05], "nice": false}, "axis": {"title": "True Positive Rate", "values": [0, 0.2, 0.4, 0.6, 0.8, 1], "format": ".1f"}},
    "color": {"field": "label", "type": "nominal", "scale": {"domain": ["AdaBoostClassifier (AUC = 0.4438)","BaggingClassifier (AUC = 0.8306)","ExtraTreesClassifier (AUC = 0.7451)","GradientBoostingClassifier (AUC = 0.8643)","RandomForestClassifier (AUC = 0.4470)","MLPClassifier (AUC = 0.6839)","SGDClassifier (AUC = 0.7040)","SVC (AUC = 0.6406)"], "range": ["#1f77b4","#ff7f0e","#2ca02c","#d62728","#9467bd","#8c564b","#e377c2","#7f7f7f"]}, "legend": {"title": null}},
    "order": [{"field": "x"}, {"field": "y"}]
   }},
   {"data": {"values": [{"x": 0, "y": 0, "x2": 1, "y2": 1}]}, "mark": {"type": "rule", "color": "black", "strokeDash": [4, 2.5], "strokeWidth": 1.2}, "encoding": {"x": {"field": "x", "type": "quantitative"}, "y": {"field": "y", "type": "quantitative"}, "x2": {"field": "x2"}, "y2": {"field": "y2"}}}
  ]}]},
 {"title": {"text": "(f)", "orient": "bottom", "anchor": "middle", "fontSize": 16, "offset": 22, "dx": 23},
  "resolve": {"scale": {"color": "independent"}},
  "vconcat": [{
  "title": "ROC Curves for External Dataset - Label 1", "width": 411, "height": 251,
  "layer": [
   {"data": {"values": [
    {"m":"Ada","x":0,"y":0},{"m":"Ada","x":0.2,"y":0},{"m":"Ada","x":0.23,"y":0.333},{"m":"Ada","x":0.5,"y":0.333},{"m":"Ada","x":0.507,"y":1},{"m":"Ada","x":1,"y":1},
    {"m":"Bag","x":0,"y":0},{"m":"Bag","x":0.053,"y":0},{"m":"Bag","x":1,"y":1},
    {"m":"ET","x":0,"y":0},{"m":"ET","x":0.035,"y":0},{"m":"ET","x":1,"y":1},
    {"m":"GB","x":0,"y":0},{"m":"GB","x":0.148,"y":0},{"m":"GB","x":0.148,"y":0.667},{"m":"GB","x":0.637,"y":0.667},{"m":"GB","x":0.64,"y":1},{"m":"GB","x":1,"y":1},
    {"m":"RF","x":0,"y":0},{"m":"RF","x":0.395,"y":0},{"m":"RF","x":0.395,"y":0.333},{"m":"RF","x":0.408,"y":0.333},{"m":"RF","x":0.408,"y":1},{"m":"RF","x":1,"y":1},
    {"m":"MLP","x":0,"y":0},{"m":"MLP","x":0.159,"y":0},{"m":"MLP","x":0.159,"y":0.333},{"m":"MLP","x":0.736,"y":0.333},{"m":"MLP","x":0.736,"y":1},{"m":"MLP","x":1,"y":1},
    {"m":"SGD","x":0,"y":0},{"m":"SGD","x":1,"y":1},
    {"m":"SVC","x":0,"y":0},{"m":"SVC","x":0.253,"y":0},{"m":"SVC","x":0.253,"y":0.333},{"m":"SVC","x":0.66,"y":0.333},{"m":"SVC","x":0.66,"y":1},{"m":"SVC","x":1,"y":1}
   ]},
   "transform": [{"lookup": "m", "from": {"data": {"values": [
     {"m":"Ada","label":"AdaBoostClassifier (AUC = 0.5937)"},{"m":"Bag","label":"BaggingClassifier (AUC = 0.4763)"},{"m":"ET","label":"ExtraTreesClassifier (AUC = 0.4824)"},{"m":"GB","label":"GradientBoostingClassifier (AUC = 0.6892)"},{"m":"RF","label":"RandomForestClassifier (AUC = 0.5973)"},{"m":"MLP","label":"MLPClassifier (AUC = 0.4570)"},{"m":"SGD","label":"SGDClassifier (AUC = 0.5000)"},{"m":"SVC","label":"SVC (AUC = 0.4757)"}]}, "key": "m", "fields": ["label"]}}],
   "mark": {"type": "line", "strokeWidth": 1.2, "clip": true},
   "encoding": {
    "x": {"field": "x", "type": "quantitative", "scale": {"domain": [0, 1], "nice": false}, "axis": {"title": "False Positive Rate", "values": [0, 0.2, 0.4, 0.6, 0.8, 1], "format": ".1f"}},
    "y": {"field": "y", "type": "quantitative", "scale": {"domain": [0, 1.05], "nice": false}, "axis": {"title": "True Positive Rate", "values": [0, 0.2, 0.4, 0.6, 0.8, 1], "format": ".1f"}},
    "color": {"field": "label", "type": "nominal", "scale": {"domain": ["AdaBoostClassifier (AUC = 0.5937)","BaggingClassifier (AUC = 0.4763)","ExtraTreesClassifier (AUC = 0.4824)","GradientBoostingClassifier (AUC = 0.6892)","RandomForestClassifier (AUC = 0.5973)","MLPClassifier (AUC = 0.4570)","SGDClassifier (AUC = 0.5000)","SVC (AUC = 0.4757)"], "range": ["#1f77b4","#ff7f0e","#2ca02c","#d62728","#9467bd","#8c564b","#e377c2","#7f7f7f"]}, "legend": {"title": null}},
    "order": [{"field": "x"}, {"field": "y"}]
   }},
   {"data": {"values": [{"x": 0, "y": 0, "x2": 1, "y2": 1}]}, "mark": {"type": "rule", "color": "black", "strokeDash": [4, 2.5], "strokeWidth": 1.2}, "encoding": {"x": {"field": "x", "type": "quantitative"}, "y": {"field": "y", "type": "quantitative"}, "x2": {"field": "x2"}, "y2": {"field": "y2"}}}
  ]}]}
 ], "resolve": {"scale": {"color": "independent"}}}
]
}
